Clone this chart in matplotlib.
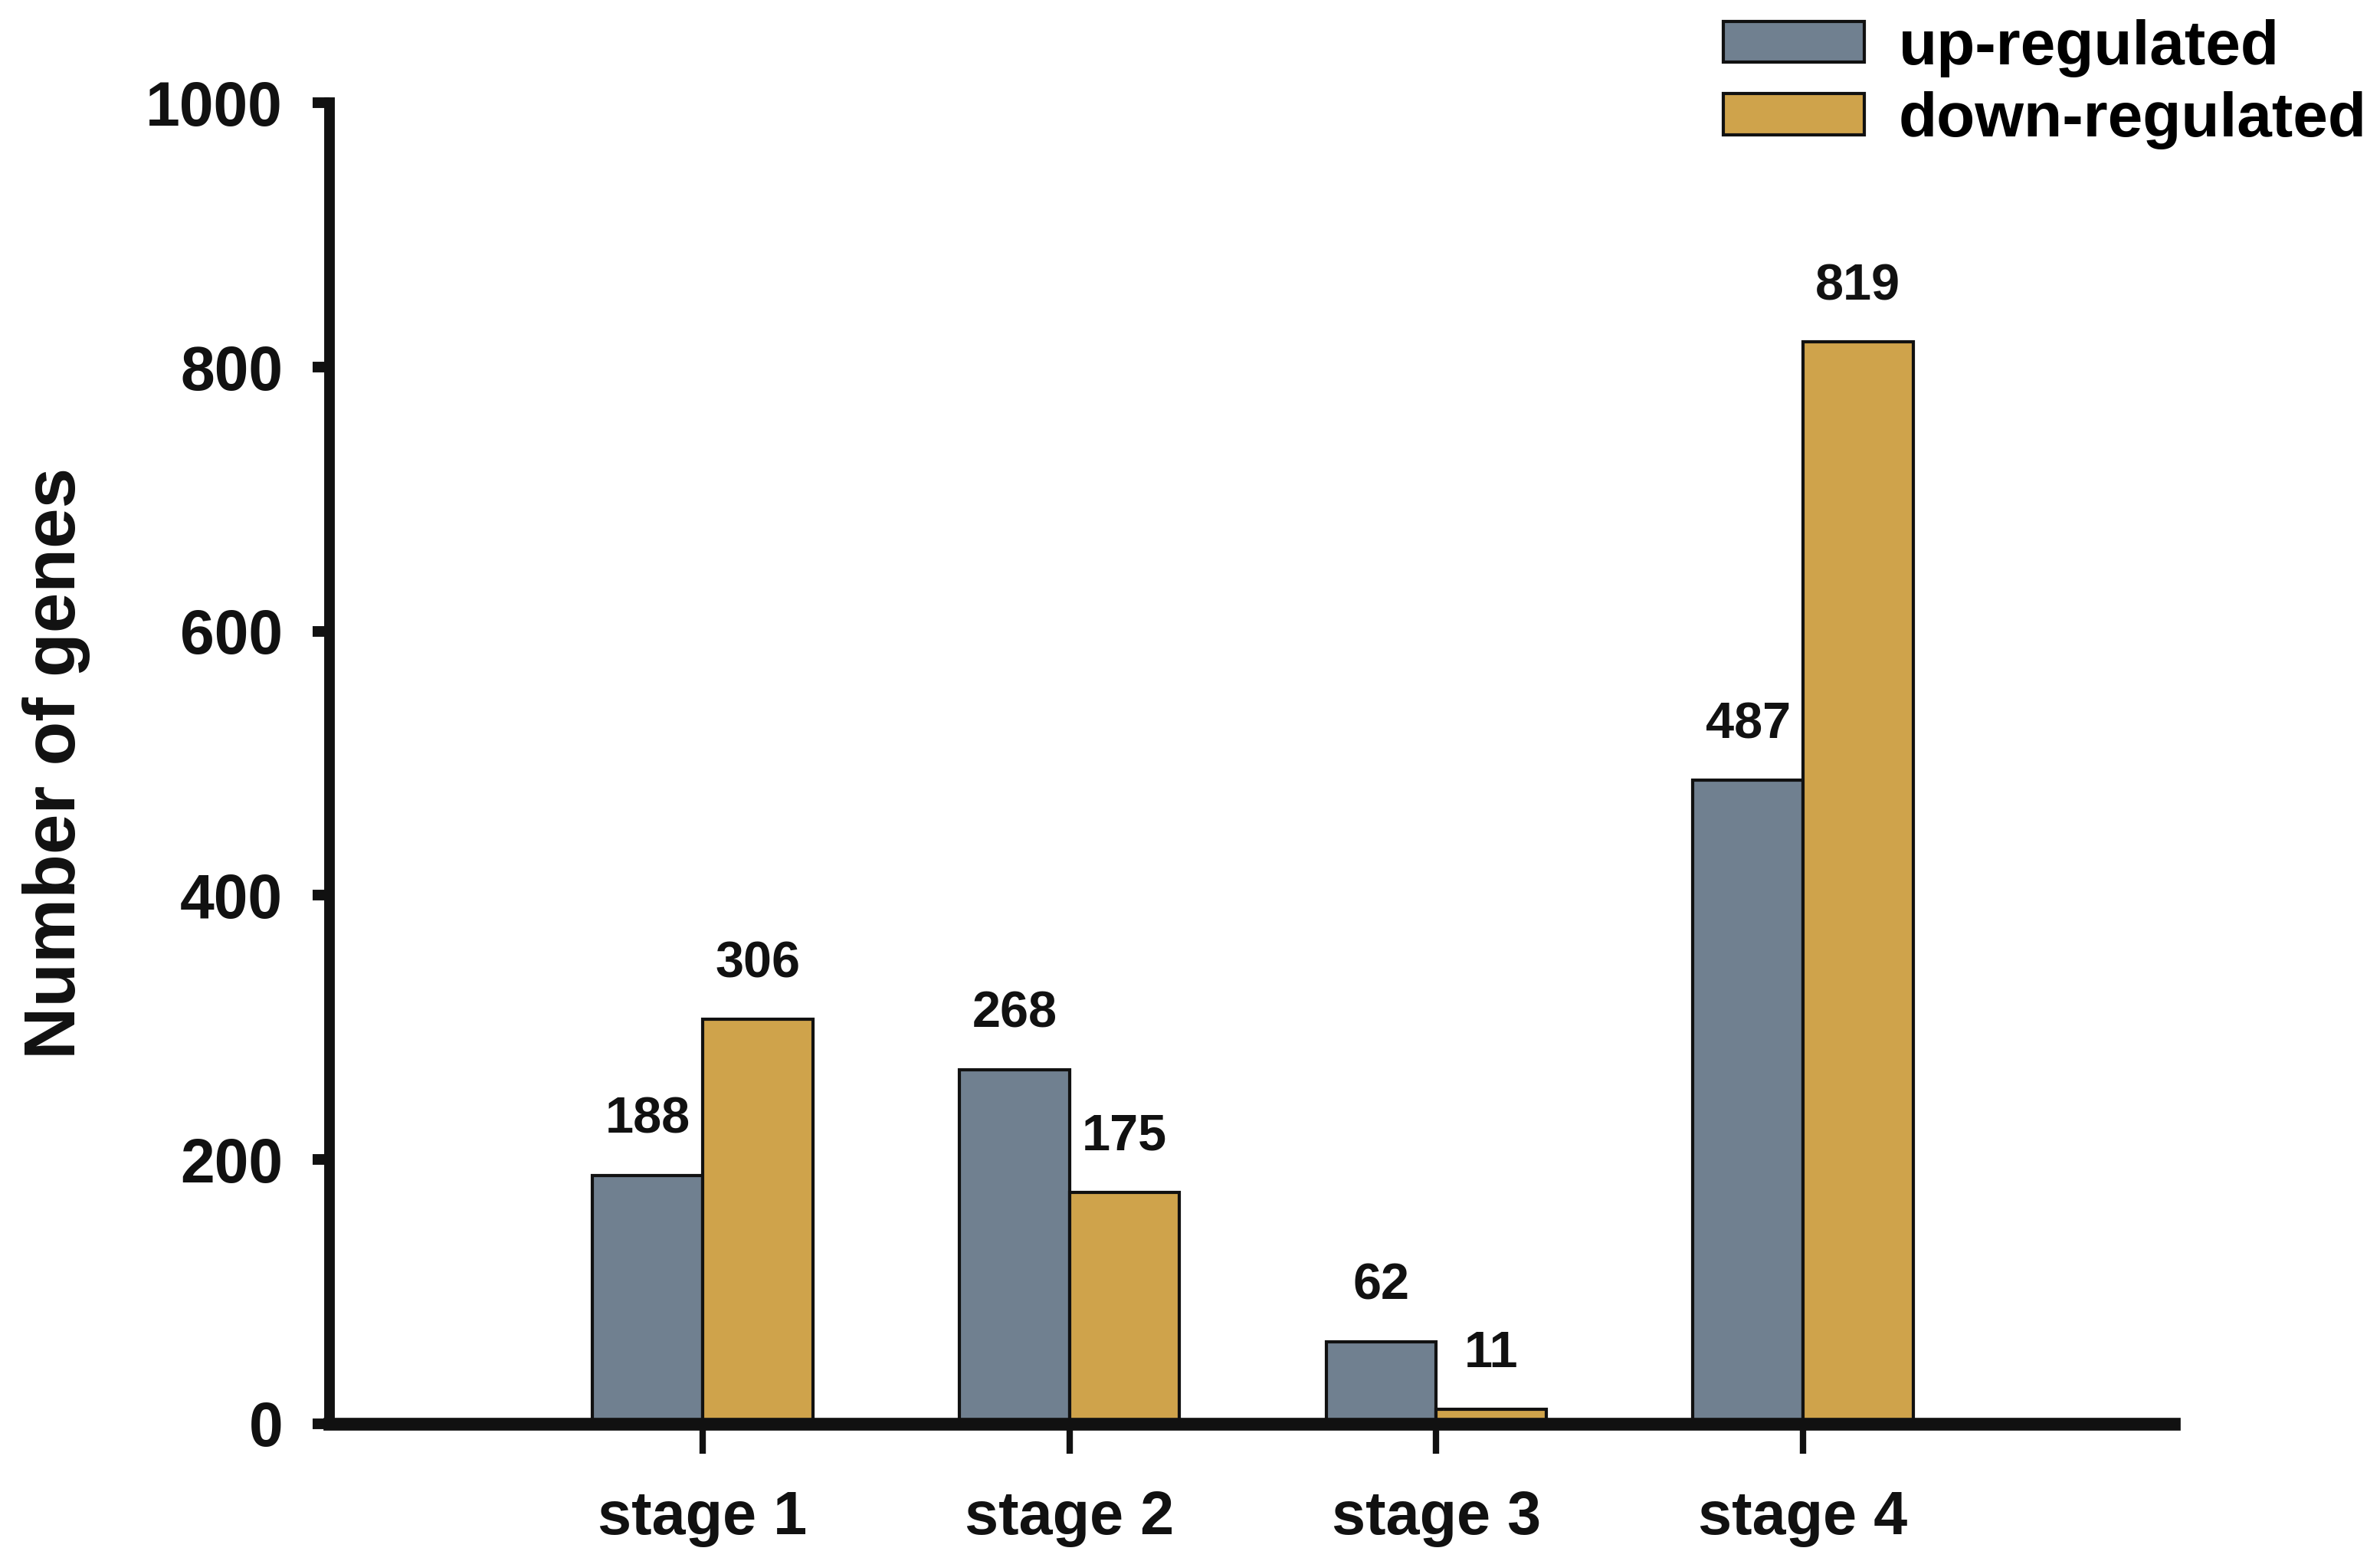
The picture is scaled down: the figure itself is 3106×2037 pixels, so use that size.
import numpy as np
import matplotlib
matplotlib.use('Agg')
from matplotlib import pyplot as plt
from matplotlib.patches import Patch

stages=['stage 1','stage 2','stage 3','stage 4']
up=[188,268,62,487]
down=[306,175,11,819]
series=['up-regulated','down-regulated']
colors=['#708090','#CFA34B']

plt.rcParams['font.family']=['Liberation Sans','DejaVu Sans']
plt.rcParams['font.weight']='bold'

fig=plt.figure(figsize=(15.53,10.185),dpi=200)
ax=fig.add_axes([0.1385,0.088,0.775,0.846])

x=np.arange(1,len(stages)+1)
w=0.3
b1=ax.bar(x-w/2,up,w,color=colors[0],edgecolor='#111111',linewidth=1.5,zorder=2)
b2=ax.bar(x+w/2,down,w,color=colors[1],edgecolor='#111111',linewidth=1.5,zorder=2)

for bars,vals in [(b1,up),(b2,down)]:
	for r,v in zip(bars,vals):
		ax.annotate(str(v),(r.get_x()+r.get_width()/2,v),xytext=(0,26),textcoords='offset points',
			ha='center',va='center',fontsize=24,fontweight='bold',color='#111111')

ax.set_xlim(-0.017,5.012)
ax.set_ylim(0,1000)
ax.set_xticks(x)
ax.set_xticklabels(stages)
ax.set_yticks(np.arange(0,1001,200))
for s in ['top','right']:
	ax.spines[s].set_visible(False)
ax.spines['left'].set_linewidth(5)
ax.spines['bottom'].set_linewidth(6)
for s in ['left','bottom']:
	ax.spines[s].set_color('#111111')
	ax.spines[s].set_capstyle('projecting')
ax.tick_params(axis='y',direction='out',length=8,width=5,pad=14,labelsize=29,colors='#111111')
ax.tick_params(axis='x',direction='out',length=14,width=3,pad=17,labelsize=28.5,colors='#111111')
for t in ax.get_xticklabels()+ax.get_yticklabels():
	t.set_fontweight('bold')
ax.set_ylabel('Number of genes',fontsize=34,fontweight='bold',color='#111111',labelpad=26)

handles=[Patch(facecolor=colors[i],edgecolor='#111111',linewidth=1.5,label=series[i]) for i in range(2)]
fig.legend(handles=handles,loc='upper right',bbox_to_anchor=(1.013,1.016),frameon=False,
	prop={'size':29.5,'weight':'bold'},handlelength=2.25,handleheight=0.62,labelspacing=0.22,handletextpad=0.55,borderaxespad=0.3)

fig.savefig('out.png',dpi=200)
plt.close()
